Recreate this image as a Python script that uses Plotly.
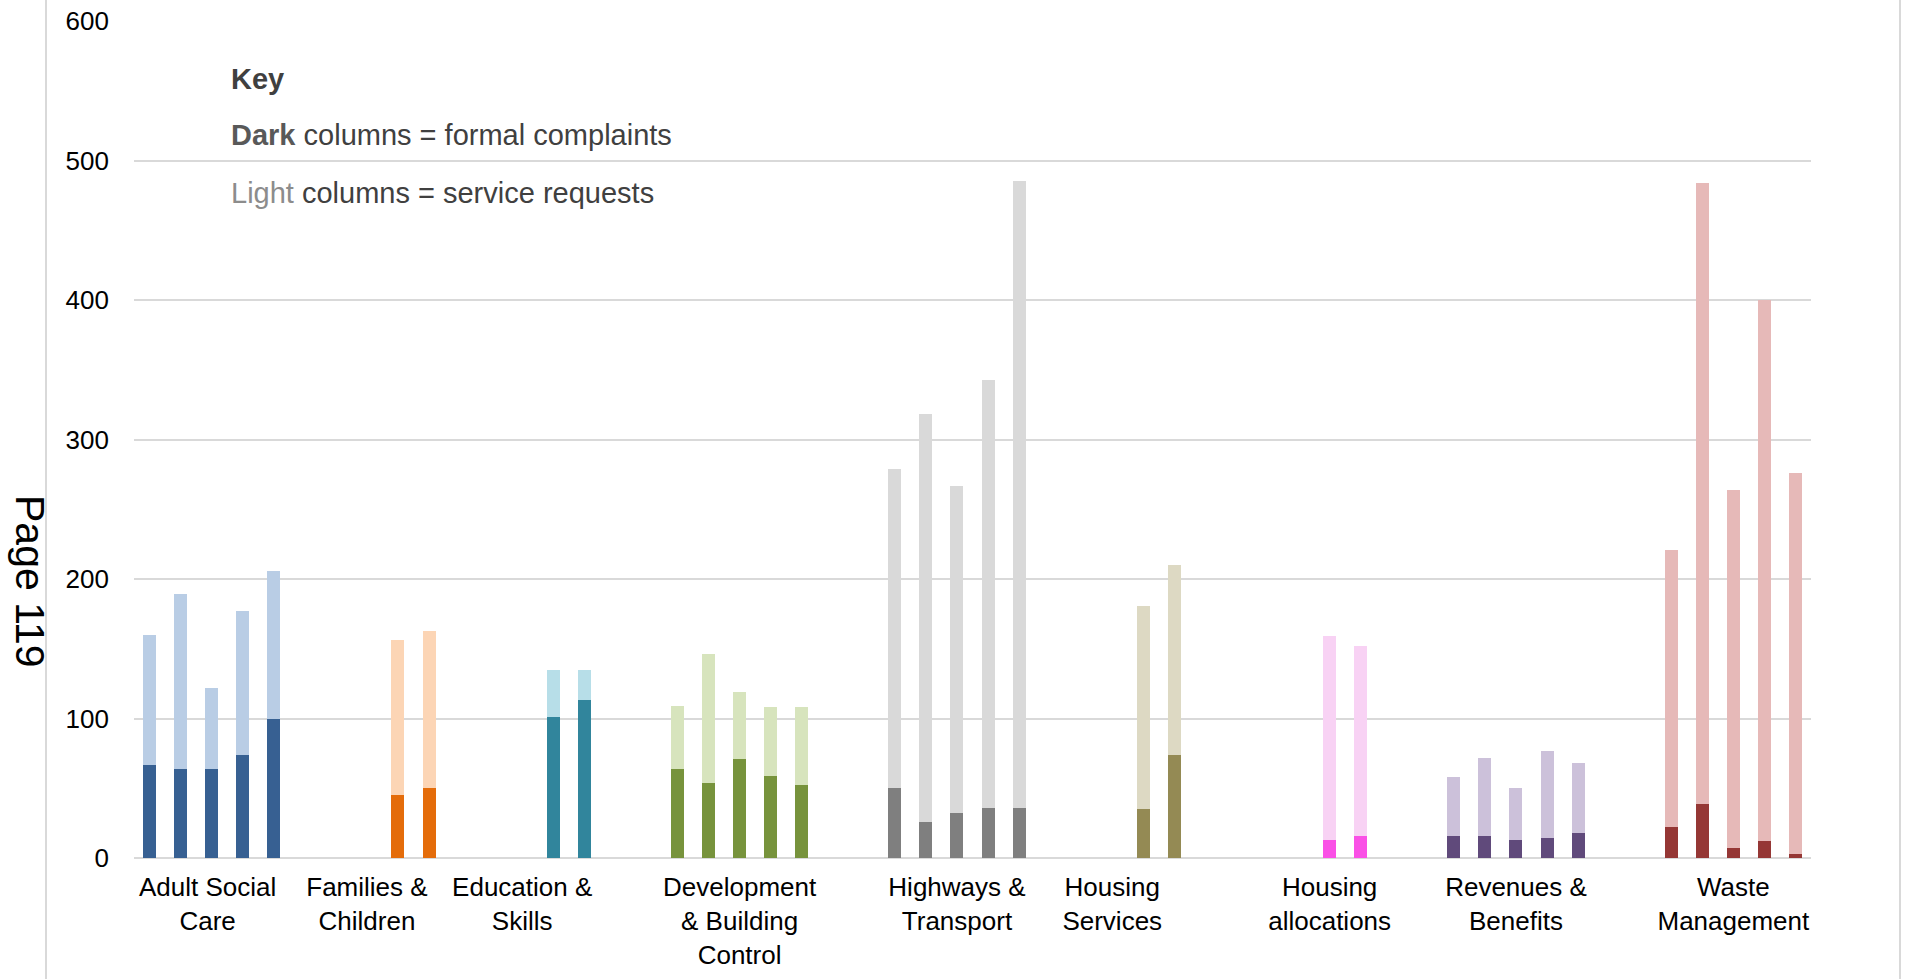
import plotly.graph_objects as go

# ---- data ----
departments = [
    "Adult Social<br>Care",
    "Families &<br>Children",
    "Education &<br>Skills",
    "Development<br>& Building<br>Control",
    "Highways &<br>Transport",
    "Housing<br>Services",
    "Housing<br>allocations",
    "Revenues &<br>Benefits",
    "Waste<br>Management",
]
# slot of the category label on the column axis (54 column slots)
label_slots = [1.87, 7, 12, 19, 26, 31, 38, 44, 51]
# column slots used by each department
column_slots = [
    [0, 1, 2, 3, 4],
    [8, 9],
    [13, 14],
    [17, 18, 19, 20, 21],
    [24, 25, 26, 27, 28],
    [32, 33],
    [38, 39],
    [42, 43, 44, 45, 46],
    [49, 50, 51, 52, 53],
]
# light columns = service requests
service_requests = [
    [160, 189, 122, 177, 206],
    [156, 163],
    [135, 135],
    [109, 146, 119, 108, 108],
    [279, 318, 267, 343, 485],
    [181, 210],
    [159, 152],
    [58, 72, 50, 77, 68],
    [221, 484, 264, 400, 276],
]
# dark columns = formal complaints
formal_complaints = [
    [67, 64, 64, 74, 100],
    [45, 50],
    [101, 113],
    [64, 54, 71, 59, 52],
    [50, 26, 32, 36, 36],
    [35, 74],
    [13, 16],
    [16, 16, 13, 14, 18],
    [22, 39, 7, 12, 3],
]
dark_colors = ["#376092", "#E46C0A", "#31859C", "#77933C", "#7F7F7F",
               "#948A54", "#FA50E6", "#604A7B", "#953735"]
light_colors = ["#B9CDE5", "#FCD5B5", "#B7DEE8", "#D7E4BD", "#D9D9D9",
                "#DDD9C3", "#F8D2F4", "#CCC1DA", "#E6B9B8"]

FONT = "Liberation Sans, Arial, sans-serif"
BAR_W = 0.42

fig = go.Figure()
for i, name in enumerate(departments):
    fig.add_trace(go.Bar(
        x=column_slots[i], y=service_requests[i], width=BAR_W,
        marker=dict(color=light_colors[i], line=dict(width=0)),
        name=name.replace("<br>", " ") + " service requests", showlegend=False))
    fig.add_trace(go.Bar(
        x=column_slots[i], y=formal_complaints[i], width=BAR_W,
        marker=dict(color=dark_colors[i], line=dict(width=0)),
        name=name.replace("<br>", " ") + " formal complaints", showlegend=False))

PL, PR, PT, PB = 134, 97, 21, 121
W, H = 1908, 979
pw, ph = W - PL - PR, H - PT - PB

def px(xp):
    return (xp - PL) / pw

def py(yp):
    return (H - PB - yp) / ph

fig.update_layout(
    width=W, height=H,
    margin=dict(l=PL, r=PR, t=PT, b=PB, pad=0, autoexpand=False),
    barmode="overlay",
    bargap=0,
    plot_bgcolor="white", paper_bgcolor="white",
    font=dict(family=FONT, size=26, color="#000000"),
    xaxis=dict(
        range=[-0.5, 53.5], tickmode="array", tickvals=label_slots,
        ticktext=departments, showgrid=False, zeroline=False,
        showline=False, ticks="", ticklabelstandoff=11, automargin=False,
        tickfont=dict(size=26, color="#000000", family=FONT),
    ),
    yaxis=dict(
        range=[0, 600], tickmode="array", tickvals=[0, 100, 200, 300, 400, 500, 600],
        showgrid=True, gridcolor="#D9D9D9", gridwidth=2,
        zeroline=True, zerolinecolor="#D9D9D9", zerolinewidth=2,
        showline=False, ticks="", ticklabelstandoff=24, automargin=False,
        tickfont=dict(size=26, color="#000000", family=FONT),
    ),
    annotations=[
        dict(text="<b>Key</b>", xref="paper", yref="paper", x=px(229), y=py(79),
             xanchor="left", yanchor="middle", showarrow=False,
             font=dict(size=29, color="#404040", family=FONT)),
        dict(text="<b><span style='color:#595959'>Dark</span></b> columns = formal complaints",
             xref="paper", yref="paper", x=px(229), y=py(135),
             xanchor="left", yanchor="middle", showarrow=False,
             font=dict(size=29, color="#404040", family=FONT)),
        dict(text="<span style='color:#8C8C8C'>Light</span> columns = service requests",
             xref="paper", yref="paper", x=px(229), y=py(193),
             xanchor="left", yanchor="middle", showarrow=False,
             font=dict(size=29, color="#404040", family=FONT)),
        dict(text="Page 119", xref="paper", yref="paper", x=px(30), y=py(581),
             xanchor="center", yanchor="middle", textangle=90, showarrow=False,
             font=dict(size=41, color="#000000", family=FONT)),
    ],
    shapes=[
        dict(type="line", xref="paper", yref="paper", x0=px(46), x1=px(46),
             y0=py(H + 5), y1=py(-5), line=dict(color="#D9D9D9", width=2)),
        dict(type="line", xref="paper", yref="paper", x0=px(1900), x1=px(1900),
             y0=py(H + 5), y1=py(-5), line=dict(color="#D9D9D9", width=2)),
    ],
)

fig.write_html("out.html", config={"displayModeBar": False},
               post_script="document.body.style.margin='0';")
